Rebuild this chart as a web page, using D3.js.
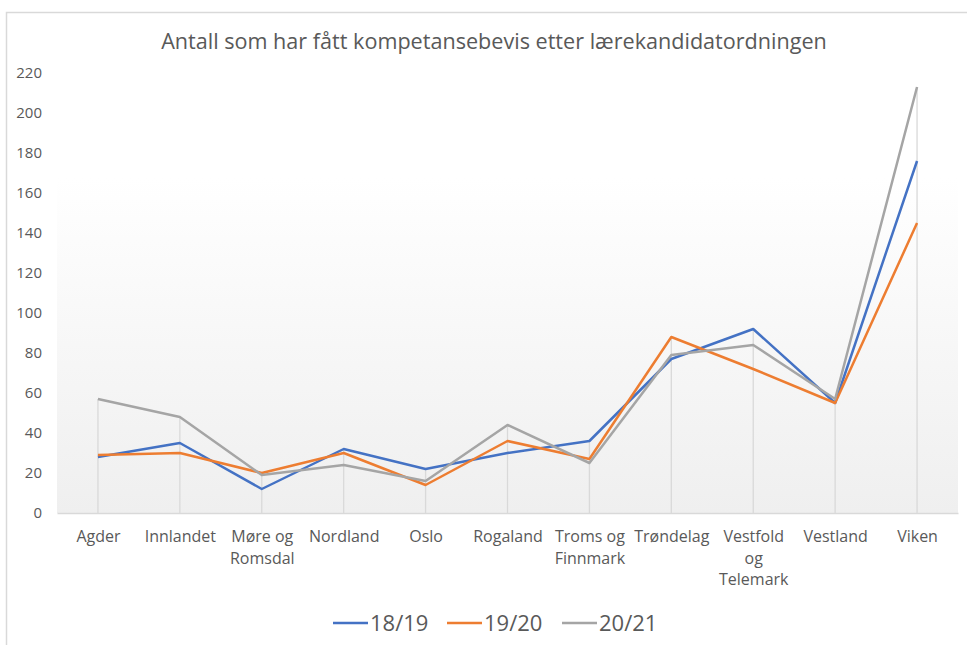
<!DOCTYPE html>
<meta charset="utf-8">
<script src="https://d3js.org/d3.v7.min.js"></script>
<style>
body { margin: 0; background: #fff; }
text { font-family: "Liberation Sans Narrow", "Open Sans", sans-serif; fill: #595959; }
</style>
<div id="my_dataviz"></div>
<script>

// data
var categories = ["Agder", "Innlandet", "Møre og Romsdal", "Nordland", "Oslo", "Rogaland",
                  "Troms og Finnmark", "Trøndelag", "Vestfold og Telemark", "Vestland", "Viken"];
var labelLines = [["Agder"], ["Innlandet"], ["Møre og", "Romsdal"], ["Nordland"], ["Oslo"], ["Rogaland"],
                  ["Troms og", "Finnmark"], ["Trøndelag"], ["Vestfold", "og", "Telemark"], ["Vestland"], ["Viken"]];
var seriesNames = ["18/19", "19/20", "20/21"];
var v1819 = [28, 35, 12, 32, 22, 30, 36, 77, 92, 55, 176];
var v1920 = [29, 30, 20, 30, 14, 36, 27, 88, 72, 55, 145];
var v2021 = [57, 48, 19, 24, 16, 44, 25, 79, 84, 57, 213];
var yTicks = [0, 20, 40, 60, 80, 100, 120, 140, 160, 180, 200, 220];
var colors = ["#4472C4", "#ED7D31", "#A5A5A5"];

var series = [v1819, v1920, v2021];

var W = 967, H = 645;
var margin = {top: 73, right: 9, bottom: 132, left: 57};
var width = W - margin.left - margin.right,
    height = H - margin.top - margin.bottom;

var root = d3.select("#my_dataviz")
  .append("svg")
    .attr("width", W)
    .attr("height", H);

// chart border (only top and left visible in the crop)
root.append("path")
  .attr("d", "M6.5," + H + "V12.5H" + W)
  .attr("fill", "none")
  .attr("stroke", "#d9d9d9")
  .attr("stroke-width", 1.5);

var defs = root.append("defs");
var grad = defs.append("linearGradient")
  .attr("id", "bg").attr("x1", 0).attr("y1", 0).attr("x2", 0).attr("y2", 1);
grad.append("stop").attr("offset", "0%").attr("stop-color", "#ffffff");
grad.append("stop").attr("offset", "25%").attr("stop-color", "#ffffff");
grad.append("stop").attr("offset", "100%").attr("stop-color", "#efefef");

root.append("text")
  .attr("x", 494)
  .attr("y", 49)
  .attr("text-anchor", "middle")
  .style("font-size", "21.6px")
  .text("Antall som har fått kompetansebevis etter lærekandidatordningen");

var svg = root.append("g")
  .attr("transform", "translate(" + margin.left + "," + margin.top + ")");

svg.append("rect")
  .attr("x", 0).attr("y", -8)
  .attr("width", width).attr("height", height + 8)
  .attr("fill", "url(#bg)");

var x = d3.scalePoint()
  .domain(categories)
  .range([0, width])
  .padding(0.5);

var y = d3.scaleLinear()
  .domain([0, 220])
  .range([height, 0]);

// y axis labels
var yAxis = svg.append("g")
  .call(d3.axisLeft(y).tickValues(yTicks).tickSize(0).tickPadding(15));
yAxis.select(".domain").remove();
yAxis.selectAll("text").style("font-size", "15px").style("fill", "#595959")
  .style("font-family", "'Liberation Sans Narrow', 'Open Sans', sans-serif");

// drop lines from the highest point to the axis
svg.append("g")
  .selectAll("line")
  .data(categories)
  .enter()
  .append("line")
    .attr("x1", function(d) { return x(d); })
    .attr("x2", function(d) { return x(d); })
    .attr("y1", function(d, i) { return y(d3.max(series, function(s) { return s[i]; })); })
    .attr("y2", height)
    .attr("stroke", "#d9d9d9")
    .attr("stroke-width", 1.3);

// x axis
var xAxis = svg.append("g")
  .attr("transform", "translate(0," + height + ")")
  .call(d3.axisBottom(x).tickSize(0).tickFormat(""));
xAxis.select(".domain").attr("stroke", "#d9d9d9").attr("stroke-width", 1.3);

xAxis.selectAll(".tick").each(function(d, i) {
  var t = d3.select(this).append("text")
    .attr("text-anchor", "middle")
    .style("font-size", "16px")
    .style("fill", "#595959");
  labelLines[i].forEach(function(line, j) {
    t.append("tspan").attr("x", 0).attr("y", 29 + j * 21.5).text(line);
  });
});

// lines
var line = d3.line()
  .x(function(d, i) { return x(categories[i]); })
  .y(function(d) { return y(d); });

svg.append("g")
  .selectAll("path")
  .data(series)
  .enter()
  .append("path")
    .attr("d", line)
    .attr("fill", "none")
    .attr("stroke", function(d, i) { return colors[i]; })
    .attr("stroke-width", 2.5)
    .attr("stroke-linejoin", "round");

// legend
var legendX = [333, 447, 562];
var leg = root.append("g")
  .selectAll("g")
  .data(seriesNames)
  .enter()
  .append("g")
    .attr("transform", function(d, i) { return "translate(" + legendX[i] + ",623)"; });
leg.append("line")
  .attr("x1", 0).attr("x2", 35)
  .attr("stroke", function(d, i) { return colors[i]; })
  .attr("stroke-width", 2.5);
leg.append("text")
  .attr("x", 37)
  .attr("dy", "0.36em")
  .style("font-size", "22px")
  .text(function(d) { return d; });

</script>
